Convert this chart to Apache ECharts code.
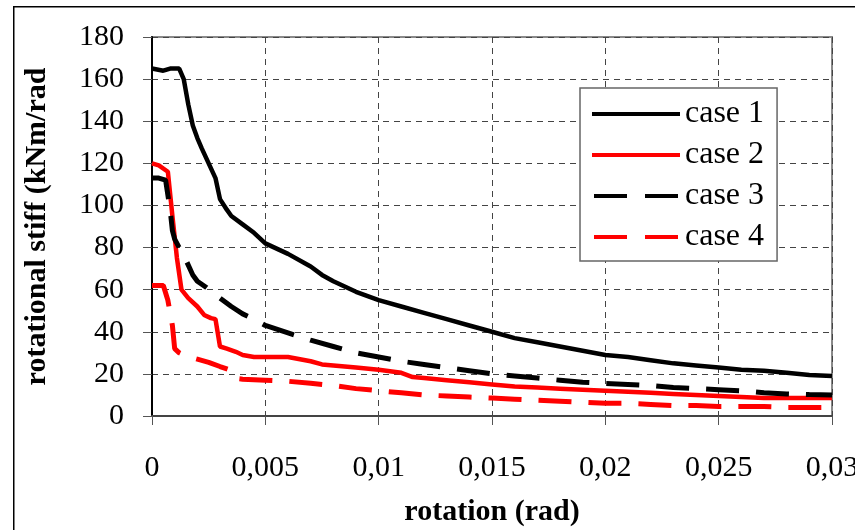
<!DOCTYPE html>
<html>
<head>
<meta charset="utf-8">
<script src="https://cdn.jsdelivr.net/npm/echarts@6/dist/echarts.min.js"></script>
<style>
html,body{margin:0;padding:0;background:#fff;}
#chart{width:855px;height:530px;}
</style>
</head>
<body>
<div id="chart"></div>
<script>
// ---- data ----
const legendNames = ['case 1', 'case 2', 'case 3', 'case 4'];
const xTicks = [0, 0.005, 0.01, 0.015, 0.02, 0.025, 0.03];

const case1X = [0, 0.0005, 0.0008, 0.0012, 0.0014, 0.0016, 0.0018, 0.002, 0.0022, 0.0025, 0.0028, 0.003, 0.0033, 0.0035, 0.004, 0.0045, 0.005, 0.006, 0.007, 0.0075, 0.008, 0.009, 0.01, 0.011, 0.012, 0.013, 0.014, 0.015, 0.016, 0.017, 0.018, 0.019, 0.02, 0.021, 0.022, 0.023, 0.024, 0.025, 0.026, 0.027, 0.028, 0.029, 0.03];
const case1Y = [165, 164, 165, 165, 160, 148, 138, 132, 127, 120, 113, 103, 98, 95, 91, 87, 82, 77, 71, 67, 64, 59, 55, 52, 49, 46, 43, 40, 37, 35, 33, 31, 29, 28, 26.5, 25, 24, 23, 22, 21.5, 20.5, 19.5, 19];

const case2X = [0, 0.0003, 0.0007, 0.0009, 0.0011, 0.0013, 0.0016, 0.002, 0.0023, 0.0026, 0.0028, 0.003, 0.0033, 0.0037, 0.004, 0.0045, 0.005, 0.006, 0.007, 0.0075, 0.008, 0.009, 0.01, 0.011, 0.0115, 0.012, 0.013, 0.014, 0.015, 0.016, 0.017, 0.018, 0.019, 0.02, 0.021, 0.022, 0.023, 0.024, 0.025, 0.026, 0.027, 0.028, 0.029, 0.03];
const case2Y = [120, 119, 116, 95, 75, 60, 56, 52, 48, 46.5, 46, 33, 32, 30.5, 29, 28, 28, 28, 26, 24.5, 24, 23, 22, 20.5, 18.5, 18, 17, 16, 15, 14, 13.5, 13, 12.5, 12, 11.5, 11, 10.5, 10, 9.5, 9, 8.5, 8.5, 8.5, 8.5];

const case3X = [0, 0.0003, 0.0006, 0.0008, 0.0009, 0.001, 0.0012, 0.0015, 0.0018, 0.002, 0.0024, 0.003, 0.0035, 0.004, 0.0045, 0.005, 0.006, 0.007, 0.008, 0.009, 0.01, 0.011, 0.012, 0.013, 0.014, 0.015, 0.016, 0.017, 0.018, 0.019, 0.02, 0.021, 0.022, 0.023, 0.024, 0.025, 0.026, 0.027, 0.028, 0.029, 0.03];
const case3Y = [113, 113, 112, 98, 88, 84, 80, 74, 67, 64, 61, 56, 52, 48.5, 46, 43, 39.5, 36, 33, 30, 28, 26, 24.5, 23, 21.5, 20, 19, 18, 17, 16, 15.5, 15, 14.5, 13.5, 13, 12.5, 12, 11, 10.5, 10.2, 10];

const case4X = [0, 0.0005, 0.0007, 0.0009, 0.001, 0.0012, 0.0015, 0.002, 0.0025, 0.003, 0.0034, 0.0036, 0.004, 0.005, 0.006, 0.007, 0.008, 0.009, 0.01, 0.011, 0.012, 0.013, 0.014, 0.015, 0.016, 0.017, 0.018, 0.019, 0.02, 0.021, 0.022, 0.023, 0.024, 0.025, 0.026, 0.027, 0.028, 0.029, 0.03];
const case4Y = [62, 62, 55, 43, 32, 30, 28.5, 27, 25.5, 23.5, 22, 18, 17.5, 17, 16.5, 15.5, 14.5, 13, 12, 11, 10, 9.5, 9, 8.5, 8, 7.5, 7, 6.5, 6, 6, 5.5, 5, 5, 4.5, 4.5, 4.5, 4, 4, 4];

// ---- build chart ----
const FONT = "'Liberation Serif', 'Times New Roman', serif";
const pairs = (xs, ys) => xs.map((x, i) => [x, ys[i]]);
const fmtX = v => (v === 0 ? '0' : String(+v.toFixed(4)).replace('.', ','));

const chart = echarts.init(document.getElementById('chart'), null, {renderer: 'canvas'});
const dash = [33, 17];
const gridDash = [6, 5];
const solidIcon = 'path://M0,0H88V4H0Z';
const dashIcon = 'path://M0,0H33V4H0Z M51,0H84V4H51Z';

chart.setOption({
  animation: false,
  backgroundColor: '#fff',
  graphic: [{
    type: 'rect', left: 13, top: 6, silent: true, z: -10,
    shape: {width: 900, height: 600},
    style: {fill: 'transparent', stroke: '#000', lineWidth: 1.5}
  }],
  grid: {
    left: 152, top: 37, right: 23, bottom: 114,
    outerBoundsMode: 'none', containLabel: false,
    show: true, borderColor: '#8a8a8a', borderWidth: 2, backgroundColor: 'transparent'
  },
  legend: {
    orient: 'vertical', left: 580, top: 88,
    data: [
      {name: legendNames[0], icon: solidIcon},
      {name: legendNames[1], icon: solidIcon},
      {name: legendNames[2], icon: dashIcon},
      {name: legendNames[3], icon: dashIcon}
    ],
    itemWidth: 88, itemHeight: 4, itemGap: 9,
    padding: [10, 13, 8, 12],
    backgroundColor: '#fff', borderColor: '#666', borderWidth: 1.5,
    itemStyle: {borderWidth: 0},
    lineStyle: {width: 0, opacity: 0},
    textStyle: {fontFamily: FONT, fontSize: 32, color: '#000', lineHeight: 30},
    selectedMode: false
  },
  xAxis: {
    type: 'value', min: 0, max: 0.03, interval: 0.005,
    name: 'rotation (rad)', nameLocation: 'middle', nameGap: 81,
    nameTextStyle: {fontFamily: FONT, fontSize: 30, fontWeight: 'bold', color: '#000'},
    axisLine: {show: true, onZero: false, lineStyle: {color: '#444', width: 2}},
    axisTick: {show: true, inside: false, length: 9, lineStyle: {color: '#555', width: 1}},
    axisLabel: {fontFamily: FONT, fontSize: 30, color: '#000', margin: 37, formatter: fmtX, showMaxLabel: true},
    splitLine: {show: true, lineStyle: {color: '#444', width: 1, type: gridDash}}
  },
  yAxis: {
    type: 'value', min: 0, max: 180, interval: 20,
    name: 'rotational stiff (kNm/rad', nameLocation: 'middle', nameGap: 100,
    nameTextStyle: {fontFamily: FONT, fontSize: 30, fontWeight: 'bold', color: '#000'},
    axisLine: {show: true, onZero: false, lineStyle: {color: '#000', width: 2}},
    axisTick: {show: true, inside: false, length: 9, lineStyle: {color: '#555', width: 1}},
    axisLabel: {fontFamily: FONT, fontSize: 30, color: '#000', margin: 28},
    splitLine: {show: true, lineStyle: {color: '#444', width: 1, type: gridDash}}
  },
  series: [
    {name: legendNames[0], type: 'line', symbol: 'none', data: pairs(case1X, case1Y),
     color: '#000', lineStyle: {color: '#000', width: 4.5, type: 'solid'}, z: 4},
    {name: legendNames[1], type: 'line', symbol: 'none', data: pairs(case2X, case2Y),
     color: '#ff0000', lineStyle: {color: '#ff0000', width: 4.5, type: 'solid'}, z: 3},
    {name: legendNames[2], type: 'line', symbol: 'none', data: pairs(case3X, case3Y),
     color: '#000', lineStyle: {color: '#000', width: 5, type: dash}, z: 5},
    {name: legendNames[3], type: 'line', symbol: 'none', data: pairs(case4X, case4Y),
     color: '#ff0000', lineStyle: {color: '#ff0000', width: 5, type: dash}, z: 5}
  ]
});
</script>
</body>
</html>
